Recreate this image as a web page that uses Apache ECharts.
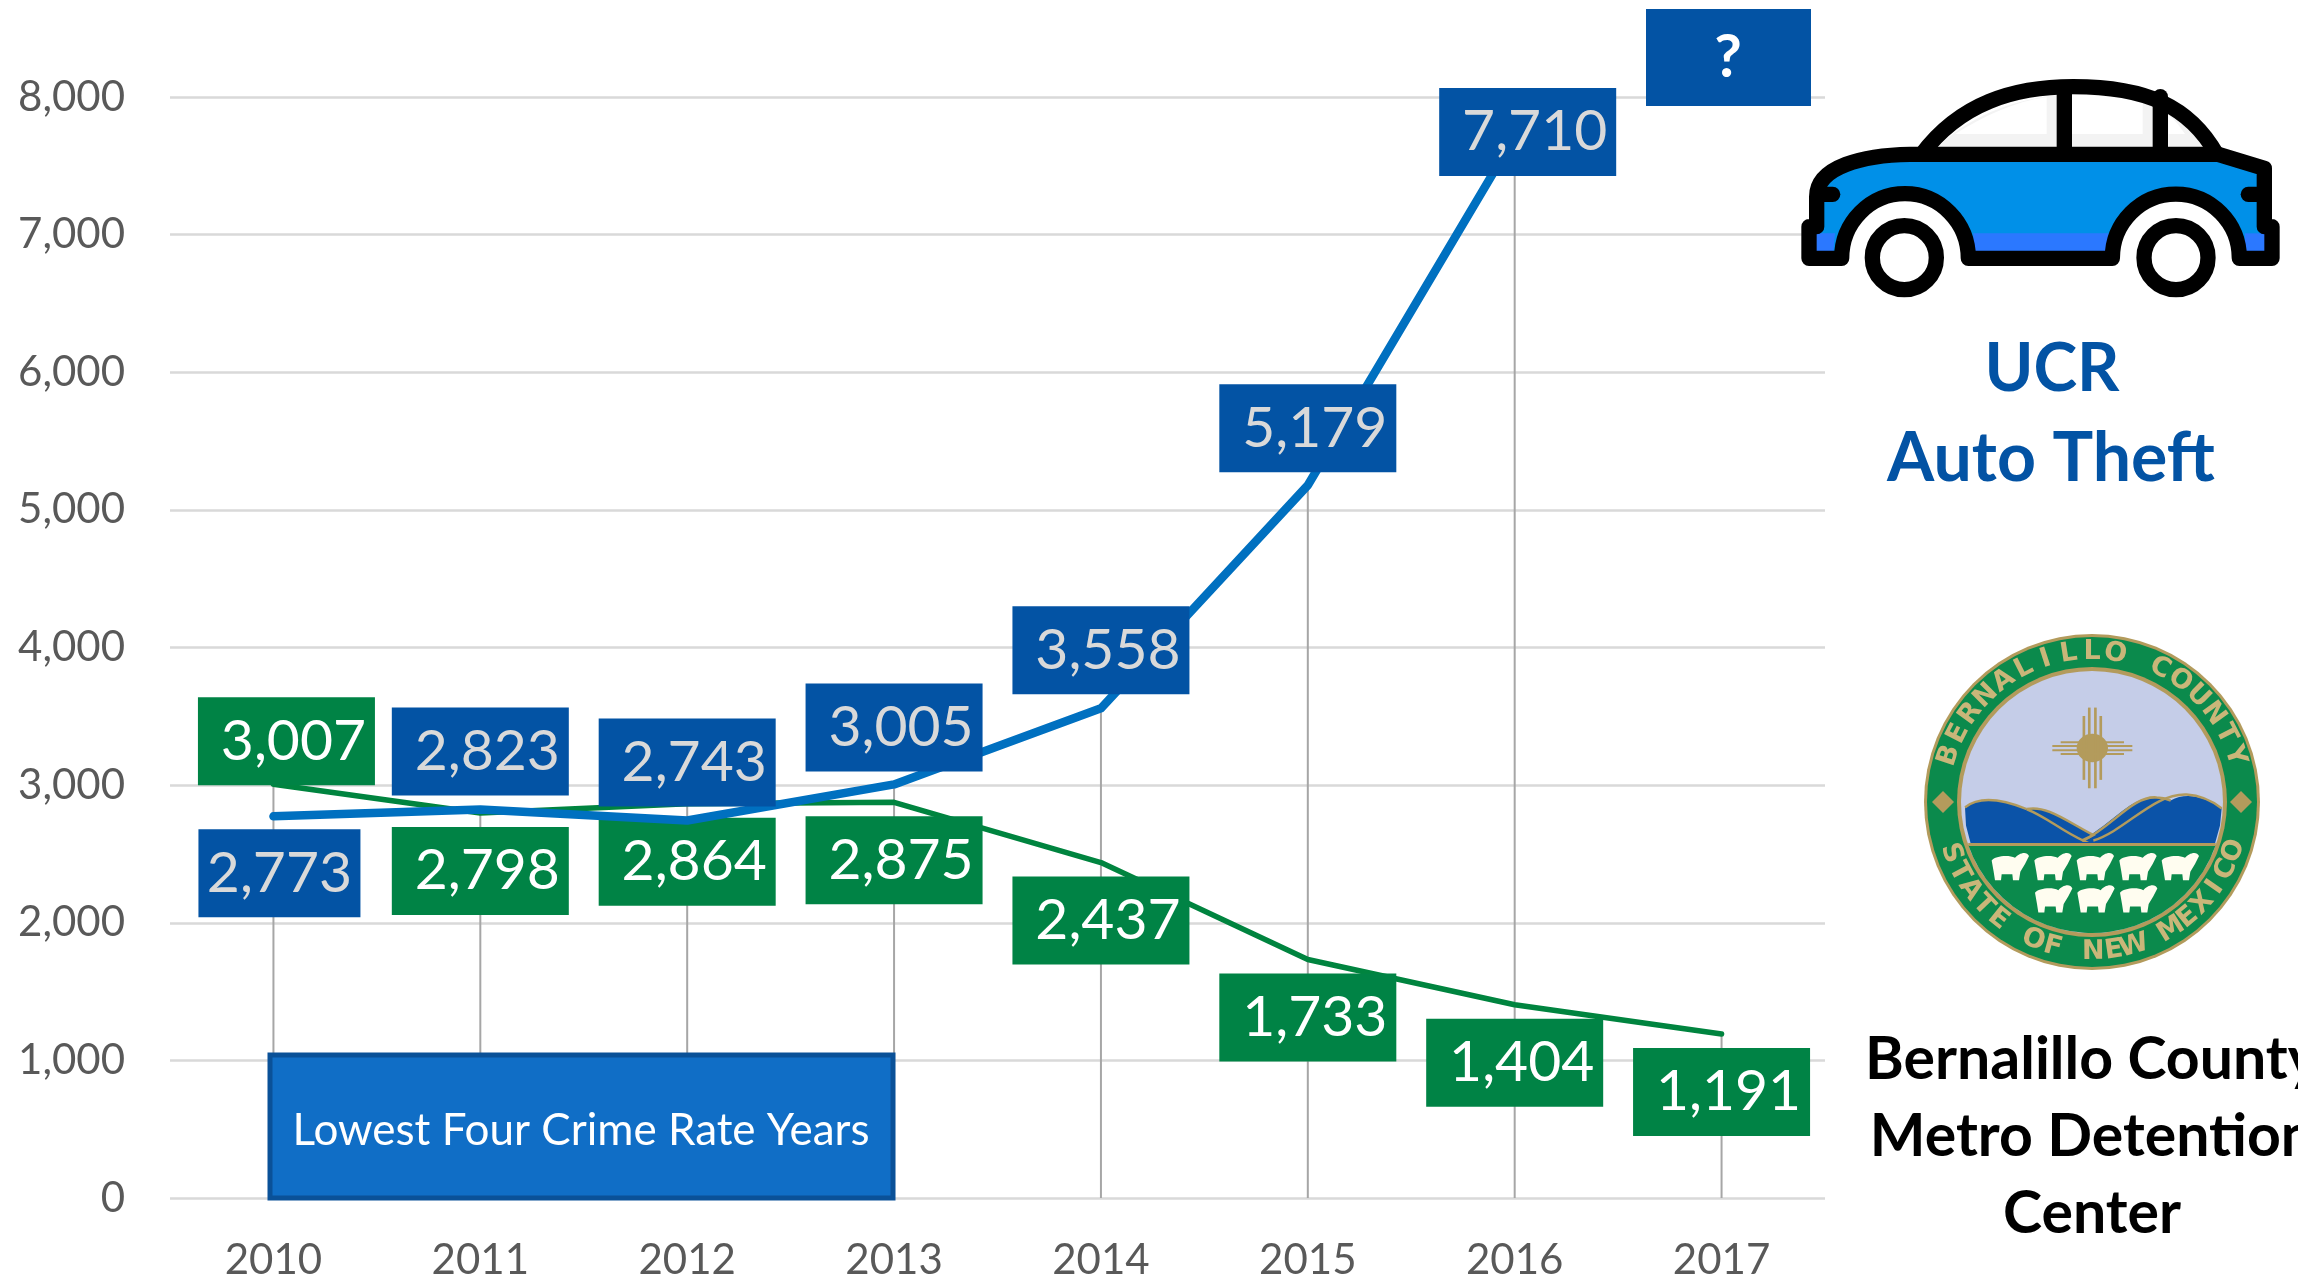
<!DOCTYPE html>
<html>
<head>
<meta charset="utf-8">
<style>html,body{margin:0;padding:0;background:#fff}#chart{width:2298px;height:1283px}</style>
<script src="https://cdn.jsdelivr.net/npm/echarts@6/dist/echarts.min.js"></script>
</head>
<body>
<div id="chart"></div>
<script>
const years = ['2010', '2011', '2012', '2013', '2014', '2015', '2016', '2017'];
const autoTheft = [2773, 2823, 2743, 3005, 3558, 5179, 7710, null];
const detention = [3007, 2798, 2864, 2875, 2437, 1733, 1404, 1191];
const valueTicks = { min: 0, max: 8000, interval: 1000 };

// Where each value box sits relative to its point, and how wide it is.
const autoTheftBoxShift = [[6, 57], [0, -58], [0, -58], [0, -57], [0, -58], [0, -57], [13, -5], [0, 0]];
const detentionBoxShift = [[13, -43], [0, 58], [0, 58], [0, 58], [0, 58], [0, 58], [0, 58], [0, 58]];
const boxWidths = { wide: 177, narrow: 162 };

const FONT = 'Lato, "Open Sans", sans-serif';
const BLUE_BOX = '#0353A4';
const GREEN_BOX = '#008345';
const TICK_GREY = '#595959';

function boxedPoints(values, shifts, fill, textFill) {
  return values.map((v, i) => {
    const narrow = values === autoTheft && i === 0;
    const leftPad = narrow ? 0 : 14;
    return {
      value: v,
      label: {
        show: v !== null,
        position: 'inside',
        offset: shifts[i],
        formatter: () => v.toLocaleString('en-US'),
        backgroundColor: fill,
        color: textFill,
        fontFamily: FONT,
        fontSize: 57,
        padding: [8, 0, 0, leftPad],
        width: (narrow ? boxWidths.narrow : boxWidths.wide) - leftPad,
        height: 80,
        lineHeight: 80,
        align: 'center',
        verticalAlign: 'middle'
      }
    };
  });
}

// Car pictogram, in a 1554-unit-wide local space.
function carIcon() {
  const black = '#000';
  const outline = { fill: 'none', stroke: black, lineWidth: 46, lineJoin: 'round', lineCap: 'round' };
  const shell = 'M87 680 L87 775 L185 775 A188 192 0 0 1 565 775 L997 775 A190 192 0 0 1 1378 775 L1476 775 L1476 680 L1453 680 L1453 505 L1315 463 L390 463 C250 465 110 500 110 590 L110 680 Z';
  const win1 = 'M475 440 C560 355 690 300 832 285 L832 440 Z';
  const win2 = 'M876 283 C960 283 1050 292 1120 315 L1120 440 L876 440 Z';
  const win3 = 'M1165 340 C1210 365 1240 400 1267 440 L1165 440 Z';
  const path = (d, style) => ({ type: 'path', shape: { pathData: d }, style });
  const wheel = (cx) => [
    { type: 'circle', shape: { cx, cy: 773, r: 96 }, style: { fill: '#F3F3F3' } },
    { type: 'circle', shape: { cx: cx - 10, cy: 773, r: 84 }, style: { fill: '#fff' } },
    { type: 'circle', shape: { cx, cy: 773, r: 96 }, style: { fill: 'none', stroke: black, lineWidth: 46 } }
  ];
  return {
    type: 'group', x: 1780, y: 0, scaleX: 1 / 3, scaleY: 1 / 3,
    children: [
      path(shell, { fill: '#0090E8' }),
      path('M100 700 L165 700 L160 755 L100 755 Z', { fill: '#2B78FF' }),
      path('M580 700 L985 700 L985 755 L580 755 Z', { fill: '#2B78FF' }),
      path('M1395 700 L1460 700 L1460 755 L1395 755 Z', { fill: '#2B78FF' }),
      path(win1, { fill: '#F3F3F3' }),
      path(win2, { fill: '#F3F3F3' }),
      path(win3, { fill: '#F3F3F3' }),
      path('M525 402 C610 350 700 305 800 292 L800 402 Z', { fill: '#fff' }),
      path('M876 285 C950 285 1020 290 1088 305 L1088 402 L876 402 Z', { fill: '#fff' }),
      path('M1165 345 C1185 360 1200 380 1215 402 L1165 402 Z', { fill: '#fff' }),
      path(shell, outline),
      path('M425 463 C540 310 700 260 880 260 C1100 260 1230 320 1310 463', outline),
      path('M853 270 L853 463', outline),
      path('M1141 290 L1141 463', outline),
      path('M120 583 L158 583', outline),
      path('M1443 583 L1405 583', outline),
      ...wheel(373),
      ...wheel(1188)
    ]
  };
}

// County seal: ring lettering, sun symbol, hills and the flock.
function countySeal() {
  const cx = 2092, cy = 802;
  const tan = '#B39B5C', ringGreen = '#0B8A4C';
  const lettering = '#C9B679';
  const out = [
    { type: 'circle', shape: { cx, cy, r: 168 }, style: { fill: tan } },
    { type: 'circle', shape: { cx, cy, r: 165 }, style: { fill: ringGreen } },
    { type: 'circle', shape: { cx, cy, r: 135 }, style: { fill: tan } },
    { type: 'circle', shape: { cx, cy, r: 131 }, style: { fill: '#C5CDE8' } }
  ];

  const arcText = (text, fromDeg, toDeg, radius, bottom) => {
    const chars = text.split('');
    chars.forEach((c, i) => {
      const a = (fromDeg + (toDeg - fromDeg) * i / (chars.length - 1)) * Math.PI / 180;
      out.push({
        type: 'text',
        x: cx + radius * Math.cos(a),
        y: cy + radius * Math.sin(a),
        rotation: bottom ? -(a - Math.PI / 2) : -(a + Math.PI / 2),
        style: { text: c, fill: lettering, font: 'bold 27px "DejaVu Sans", sans-serif', align: 'center', verticalAlign: 'middle' }
      });
    });
  };
  arcText('BERNALILLO COUNTY', -162, -18, 150, false);
  arcText('STATE OF NEW MEXICO', 160, 19, 150, true);

  const path = (d, fill, stroke) => ({
    type: 'path', shape: { pathData: d },
    style: stroke ? { fill, stroke, lineWidth: 6 } : { fill }
  });
  // The hills and flock are laid out in a squarer local grid.
  const local = [
    path('M255 458 C300 430 370 440 440 462 C500 452 560 490 635 520 C700 490 760 430 830 435 C850 435 860 438 872 442 C920 420 980 435 1025 460 L1020 500 L1005 542 L272 542 L258 500 Z', '#0B53A8'),
    path('M440 462 C370 440 300 430 255 458', 'none', tan),
    path('M440 462 C500 452 560 490 640 522 C620 530 600 535 610 535 C540 510 500 480 440 462', 'none', tan),
    path('M610 535 C700 500 760 430 830 435 C850 435 860 438 872 442', 'none', tan),
    path('M640 535 C740 510 820 425 920 428 C960 430 1000 445 1025 460', 'none', tan)
  ];
  [[335, 565], [463, 565], [590, 565], [718, 565], [845, 565], [465, 640], [592, 640], [720, 640]].forEach(([sx, sy]) => {
    local.push(path(
      `M${sx} ${sy + 16} C${sx + 10} ${sy + 6} ${sx + 50} ${sy + 2} ${sx + 70} ${sy + 10} C${sx + 80} ${sy} ${sx + 105} ${sy - 8} ${sx + 112} ${sy + 6} ` +
      `L${sx + 100} ${sy + 24} L${sx + 86} ${sy + 42} L${sx + 82} ${sy + 62} L${sx + 64} ${sy + 62} L${sx + 62} ${sy + 48} L${sx + 30} ${sy + 48} L${sx + 28} ${sy + 62} L${sx + 10} ${sy + 62} L${sx + 6} ${sy + 42} Z`,
      '#FFFDF0'
    ));
  });
  // Sun symbol: central disc with four rays on each side.
  local.push({ type: 'ellipse', shape: { cx: 637, cy: 320, rx: 47, ry: 33 }, style: { fill: tan } });
  [-22, -8, 8, 22].forEach((d) => {
    const long = Math.abs(d) < 10;
    const reach = long ? 120 : 95;
    local.push(
      { type: 'rect', shape: { x: 637 - reach, y: 320 + d * 0.62 - 2, width: reach * 2, height: 5 }, style: { fill: tan } },
      { type: 'rect', shape: { x: 637 + d * 1.15 - 4, y: 320 - reach * 0.78, width: 8, height: reach * 1.56 }, style: { fill: tan } }
    );
  });
  const hChord = Math.sqrt(131 * 131 - 43 * 43);
  out.push(
    { type: 'path', shape: { pathData: `M${cx - hChord} 845 A131 131 0 0 0 ${cx + hChord} 845 Z` }, style: { fill: ringGreen } },
    { type: 'group', x: 1880, y: 610, scaleX: 1 / 3, scaleY: 1 / 2.32, children: local },
    { type: 'rect', shape: { x: cx - hChord, y: 843, width: 2 * hChord, height: 3 }, style: { fill: tan } }
  );
  [[1943, 802], [2241, 802]].forEach(([dx, dy]) => {
    out.push({ type: 'polygon', shape: { points: [[dx - 11, dy], [dx, dy - 11], [dx + 11, dy], [dx, dy + 11]] }, style: { fill: tan } });
  });
  return { type: 'group', children: out };
}

function caption(text, x, y, size, fill, weight) {
  return {
    type: 'text', x, y,
    style: { text, fill, font: `${weight} ${size}px ${FONT}`, align: 'center', verticalAlign: 'middle' }
  };
}

function annotations() {
  return {
    type: 'group',
    children: [
      { type: 'rect', shape: { x: 270, y: 1055, width: 623, height: 143 }, style: { fill: '#106EC6', stroke: '#0A5198', lineWidth: 5 } },
      caption('Lowest Four Crime Rate Years', 581, 1131, 44, '#fff', 'normal'),
      { type: 'rect', shape: { x: 1646, y: 9, width: 165, height: 97 }, style: { fill: BLUE_BOX } },
      caption('?', 1728, 58, 60, '#fff', 'bold'),
      carIcon(),
      caption('UCR', 2052, 370, 66, BLUE_BOX, 'bold'),
      caption('Auto Theft', 2051, 459, 68, BLUE_BOX, 'bold'),
      countySeal(),
      caption('Bernalillo County', 2092, 1060, 59, '#000', 'bold'),
      caption('Metro Detention', 2092, 1137, 59, '#000', 'bold'),
      caption('Center', 2092, 1214, 59, '#000', 'bold')
    ]
  };
}

const chart = echarts.init(document.getElementById('chart'), null, { renderer: 'canvas' });
chart.setOption({
  animation: false,
  backgroundColor: '#fff',
  grid: { left: 170, top: 97, width: 1655, height: 1101 },
  xAxis: {
    type: 'category',
    data: years,
    axisLine: { show: false },
    axisTick: { show: false },
    axisLabel: { color: TICK_GREY, fontFamily: FONT, fontSize: 42, margin: 41 }
  },
  yAxis: {
    type: 'value',
    min: valueTicks.min,
    max: valueTicks.max,
    interval: valueTicks.interval,
    axisLine: { show: false },
    axisTick: { show: false },
    axisLabel: { color: TICK_GREY, fontFamily: FONT, fontSize: 42, margin: 45, padding: [6, 0, 0, 0], formatter: (v) => v.toLocaleString('en-US') },
    splitLine: { lineStyle: { color: '#D9D9D9', width: 2.5 } }
  },
  series: [
    {
      // Drop lines from the higher of the two values down to the axis.
      type: 'bar',
      barWidth: 2,
      silent: true,
      z: 1,
      itemStyle: { color: '#A6A6A6' },
      data: detention.map((v, i) => Math.max(v, autoTheft[i] || 0))
    },
    {
      name: 'Metro Detention',
      type: 'line',
      z: 3,
      symbol: 'circle',
      symbolSize: 1,
      showSymbol: true,
      showAllSymbol: true,
      lineStyle: { color: '#00843F', width: 5.5, cap: 'round', join: 'round' },
      itemStyle: { color: '#00843F' },
      data: boxedPoints(detention, detentionBoxShift, GREEN_BOX, '#fff')
    },
    {
      name: 'Auto Theft',
      type: 'line',
      z: 4,
      symbol: 'circle',
      symbolSize: 1,
      showSymbol: true,
      showAllSymbol: true,
      connectNulls: false,
      lineStyle: { color: '#0070C0', width: 8.5, cap: 'round', join: 'round' },
      itemStyle: { color: '#0070C0' },
      data: boxedPoints(autoTheft, autoTheftBoxShift, BLUE_BOX, '#D9D9D9')
    },
    {
      // Side artwork and the boxed notes, placed on the page.
      type: 'custom',
      coordinateSystem: 'none',
      silent: true,
      z: 6,
      data: [0],
      renderItem: annotations
    }
  ]
});
</script>
</body>
</html>
